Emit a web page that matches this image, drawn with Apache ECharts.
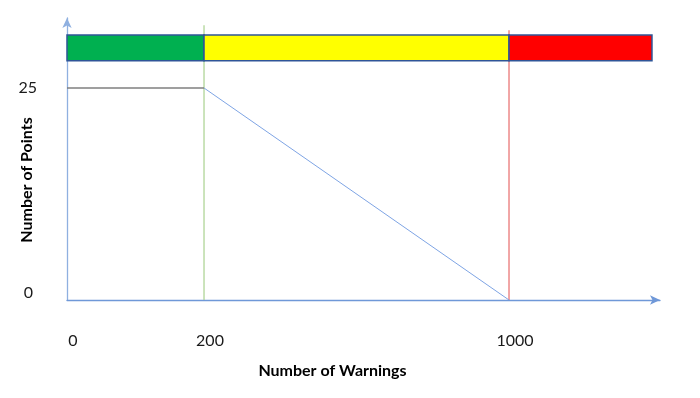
<!DOCTYPE html>
<html>
<head>
<meta charset="utf-8">
<script src="https://cdn.jsdelivr.net/npm/echarts@6/dist/echarts.min.js"></script>
<style>
  html, body { margin: 0; padding: 0; background: #fff; }
  #main { width: 700px; height: 398px; }
</style>
</head>
<body>
<div id="main"></div>
<script>
// tick labels
var warningTicks = [0, 200, 1000];
var pointTicks = [0, 25];
// points curve (warnings -> points)
var curveWarnings = [0, 200, 1000];
var curvePoints = [25, 25, 0];
// traffic light zones (warnings)
var zoneFrom = [0, 200, 1000];
var zoneTo = [200, 1000, 1375];
var zoneColors = ['#00b050', '#ffff00', '#ff0000'];

// the warnings axis is drawn schematic: first 200 warnings get one unit, the rest is squeezed
function xPos(w) {
    if (w <= 200) return w / 200;
    return 1 + (w - 200) / 800 * 2.226;
}

var chartDom = document.getElementById('main');
var myChart = echarts.init(chartDom);
var font = 'Lato, "Liberation Sans", sans-serif';

var zoneData = zoneFrom.map(function (f, i) { return [xPos(f), xPos(zoneTo[i]), i]; });
var greyPart = [], bluePart = [];
for (var i = 0; i < curveWarnings.length; i++) {
    var p = [xPos(curveWarnings[i]), curvePoints[i]];
    if (i <= 1) greyPart.push(p);
    if (i >= 1) bluePart.push(p);
}

var option = {
    animation: false,
    grid: { left: 67, right: 40, top: 18, bottom: 98, containLabel: false, outerBoundsMode: 'none' },
    xAxis: {
        type: 'value',
        min: 0,
        max: 4.328,
        splitLine: { show: false },
        axisTick: { show: false },
        axisLine: {
            show: true,
            symbol: ['none', 'arrow'],
            symbolSize: [7, 10],
            lineStyle: { color: '#6f98d8', width: 1.3 }
        },
        axisLabel: {
            customValues: warningTicks.map(xPos),
            formatter: function (v) {
                for (var i = 0; i < warningTicks.length; i++) {
                    if (Math.abs(xPos(warningTicks[i]) - v) < 1e-6) return String(warningTicks[i]);
                }
                return '';
            },
            margin: 33,
            padding: [0, 0, 0, 12],
            color: '#1a1a1a',
            fontSize: 16,
            fontFamily: font
        },
        name: 'Number of Warnings',
        nameLocation: 'middle',
        nameGap: 63,
        nameMoveOverlap: false,
        nameTextStyle: {
            fontWeight: 'bold',
            fontSize: 16,
            fontFamily: font,
            color: '#000',
            padding: [0, 62, 0, 0]
        }
    },
    yAxis: {
        type: 'value',
        min: 0,
        max: 33.25,
        splitLine: { show: false },
        axisTick: { show: false },
        axisLine: {
            show: true,
            symbol: ['none', 'arrow'],
            symbolSize: [7, 10],
            lineStyle: { color: '#8fb0e0', width: 1.3 }
        },
        axisLabel: {
            customValues: pointTicks,
            formatter: function (v) { return v === 0 ? '{lo|0}' : String(v); },
            rich: { lo: { padding: [0, 4, 14, 0], fontSize: 16, fontFamily: font, color: '#1a1a1a' } },
            margin: 30,
            color: '#1a1a1a',
            fontSize: 16,
            fontFamily: font
        },
        name: 'Number of Points',
        nameLocation: 'middle',
        nameGap: 32,
        nameMoveOverlap: false,
        nameTextStyle: {
            fontWeight: 'bold',
            fontSize: 16,
            fontFamily: font,
            color: '#000',
            padding: [0, 42, 0, 0]
        }
    },
    series: [
        {
            // threshold at 200
            type: 'line',
            data: [[xPos(200), 0], [xPos(200), 32.4]],
            symbol: 'none',
            lineStyle: { color: '#a9d18e', width: 1.2 },
            z: 2
        },
        {
            // threshold at 1000
            type: 'line',
            data: [[xPos(1000), 0], [xPos(1000), 31.8]],
            symbol: 'none',
            lineStyle: { color: '#e86b6b', width: 1.2 },
            z: 2
        },
        {
            type: 'line',
            data: greyPart,
            symbol: 'none',
            lineStyle: { color: '#7f7f7f', width: 1.6 },
            z: 3
        },
        {
            type: 'line',
            data: bluePart,
            symbol: 'none',
            lineStyle: { color: '#7ea4e4', width: 1 },
            z: 3
        },
        {
            type: 'custom',
            data: zoneData,
            z: 5,
            renderItem: function (params, api) {
                var a = api.coord([api.value(0), 31.25]);
                var b = api.coord([api.value(1), 28.2]);
                return {
                    type: 'rect',
                    shape: { x: a[0], y: a[1], width: b[0] - a[0], height: b[1] - a[1] },
                    style: {
                        fill: zoneColors[api.value(2)],
                        stroke: '#2f5597',
                        lineWidth: 1.5
                    }
                };
            }
        }
    ]
};

option && myChart.setOption(option);
</script>
</body>
</html>
